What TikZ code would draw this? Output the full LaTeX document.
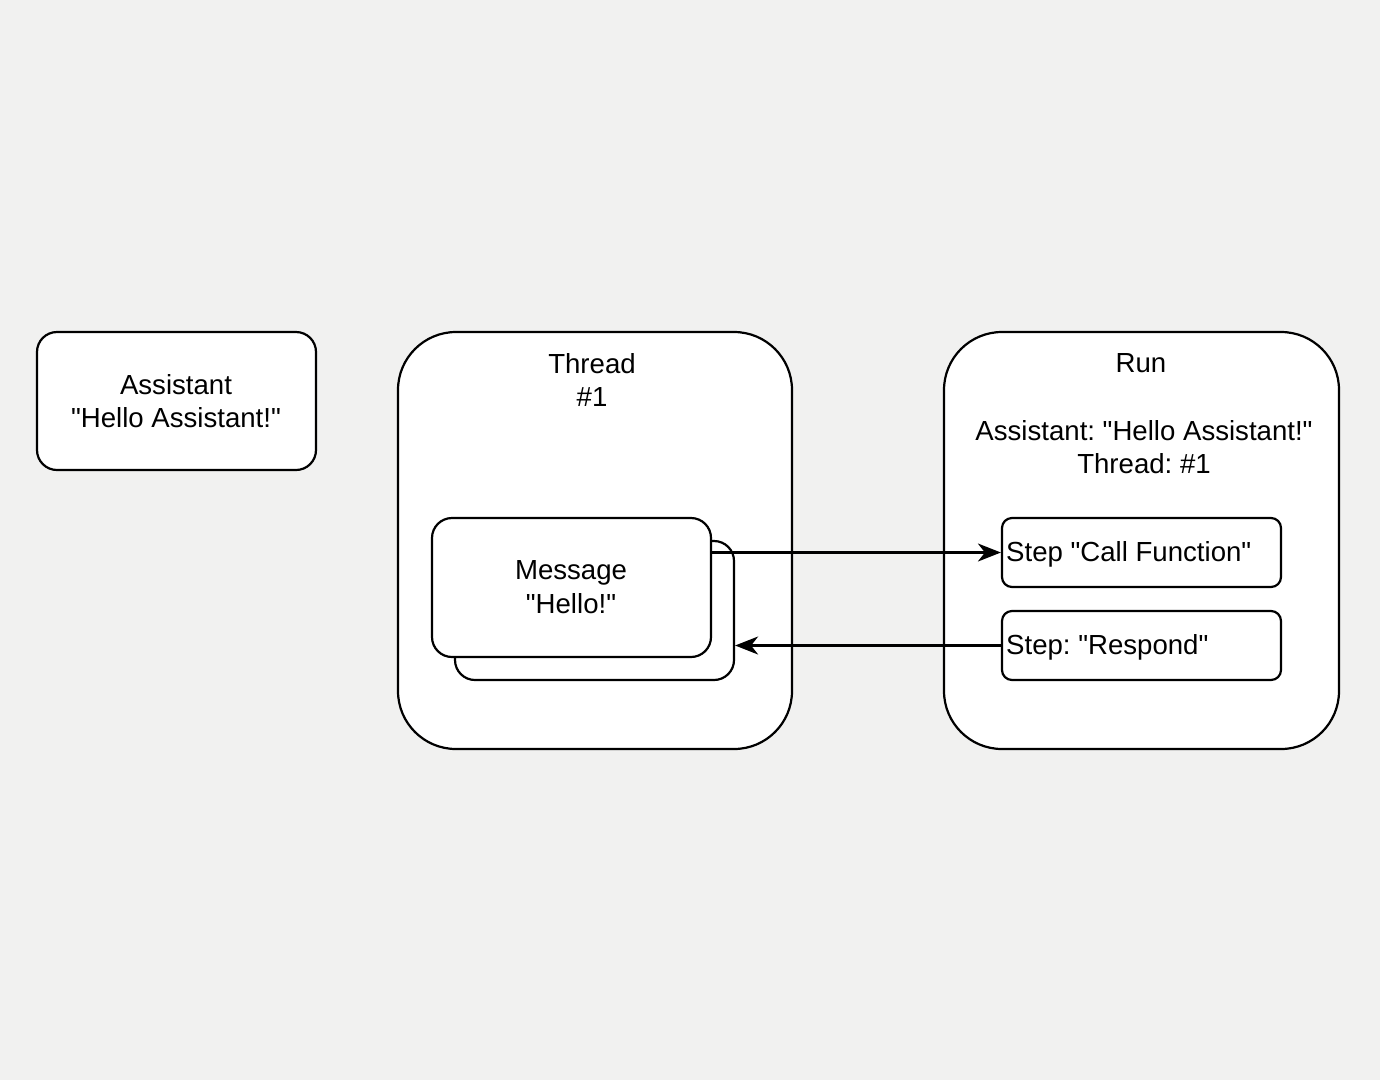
\documentclass[tikz,border=0pt]{standalone}
\usepackage{fontspec}
\setmainfont{Liberation Sans}[Ligatures=TeXOff]
\usetikzlibrary{arrows.meta}
\definecolor{bg}{HTML}{F1F1F0}
\begin{document}
\frenchspacing
\begin{tikzpicture}[x=1pt,y=-1pt,
  box/.style={draw=black,fill=white,line width=2.2pt},
  txt/.style={font=\fontsize{27.6}{33.5}\selectfont,align=center,inner sep=0pt,text=black},
  conn/.style={line width=2.2pt,-{Stealth[length=23pt,width=18pt,inset=7pt]}}]
\fill[bg] (0,0) rectangle (1380,1080);
\useasboundingbox (0,0) rectangle (1380,1080);
% Assistant
\draw[box,rounded corners=20pt] (37,332) rectangle (316,470);
\node[txt] (asst) at (176,401) {Assistant\\"Hello Assistant!"};
% Thread container
\draw[box,rounded corners=58pt] (398,332) rectangle (792,749);
\node[txt] (thr) at (592,380) {Thread\\\#1};
% Run container
\draw[box,rounded corners=58pt] (944,332) rectangle (1339,749);
\node[txt] (run) at (1141,363) {Run};
\node[txt] (runinfo) at (1144,447) {Assistant: "Hello Assistant!"\\Thread: \#1};
% Message stack
\node[box,rounded corners=20pt,minimum width=279pt,minimum height=139pt,inner sep=0pt] (msgback) at (594.5,610.5) {};
\node[box,rounded corners=20pt,minimum width=279pt,minimum height=139pt,inner sep=0pt] (msg) at (571.5,587.5) {};
\node[txt] (msgtxt) at (571,587) {Message\\"Hello!"};
% Steps
\node[box,rounded corners=10pt,minimum width=279pt,minimum height=69pt,inner sep=0pt] (call) at (1141.5,552.5) {};
\node[txt,anchor=west] (calltxt) at (1006,554) {Step "Call Function"};
\node[box,rounded corners=10pt,minimum width=279pt,minimum height=69pt,inner sep=0pt] (resp) at (1141.5,645.5) {};
\node[txt,anchor=west] (resptxt) at (1006,647) {Step: "Respond"};
% connectors
\draw[conn] (msg.east |- call.west) -- (call.west);
\draw[conn] (resp.west) -- (msgback.east |- resp.west);
\end{tikzpicture}
\end{document}
